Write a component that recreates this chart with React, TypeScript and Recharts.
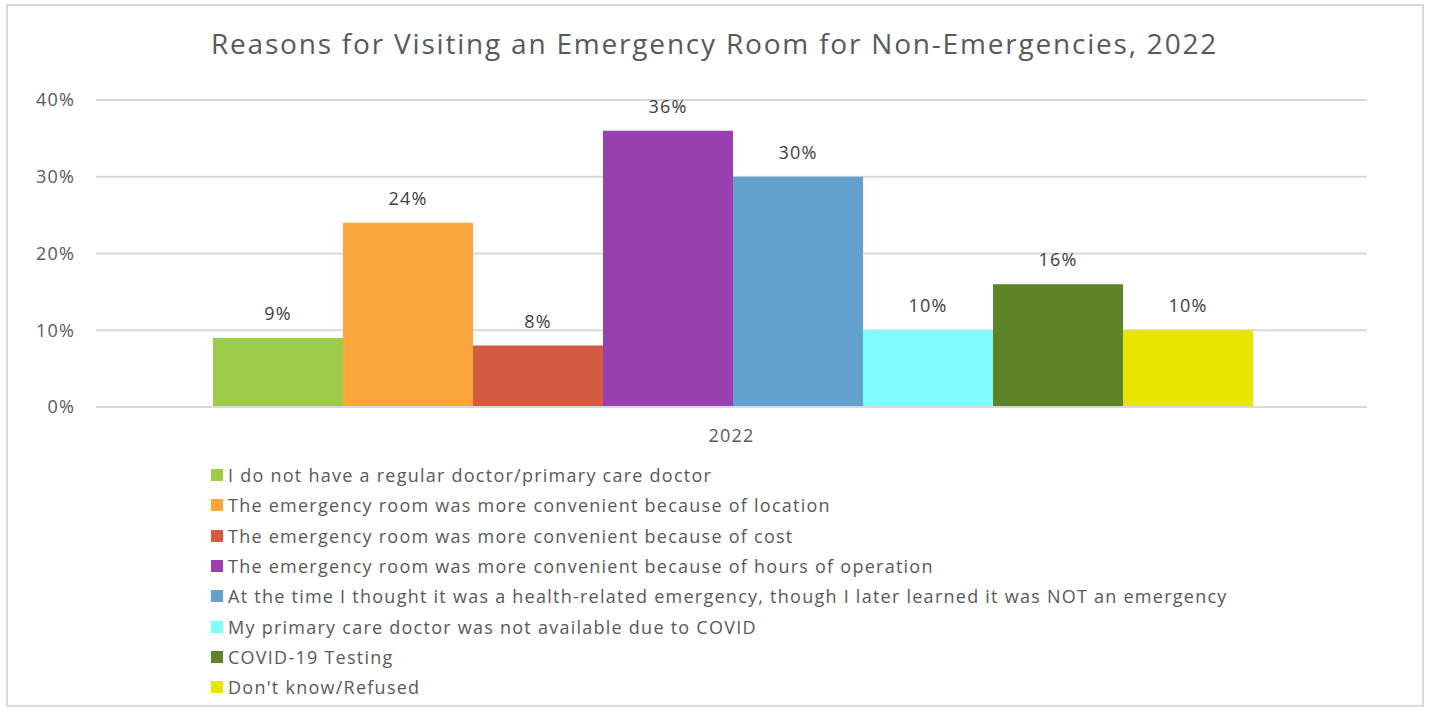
import React from 'react';
import { BarChart, Bar, XAxis, YAxis, CartesianGrid, LabelList, Legend } from 'recharts';

const categories = ['2022'];
const seriesNames = [
  'I do not have a regular doctor/primary care doctor',
  'The emergency room was more convenient because of location',
  'The emergency room was more convenient because of cost',
  'The emergency room was more convenient because of hours of operation',
  'At the time I thought it was a health-related emergency, though I later learned it was NOT an emergency',
  'My primary care doctor was not available due to COVID',
  'COVID-19 Testing',
  "Don't know/Refused",
];
const seriesValues = [0.09, 0.24, 0.08, 0.36, 0.30, 0.10, 0.16, 0.10];
const seriesColors = ['#9BCD4B', '#F9A73B', '#D45B42', '#9940B1', '#62A0CD', '#7FFCFD', '#5E8427', '#E7E600'];
const yTicks = [0, 0.1, 0.2, 0.3, 0.4];

const data = categories.map((c) => {
  const row: Record<string, any> = { name: c };
  seriesNames.forEach((_, i) => { row['s' + i] = seriesValues[i]; });
  return row;
});

const FONT = '"Open Sans", sans-serif';
const pct = (v: any) => `${Math.round(Number(v) * 100)}%`;

const LegendContent = (props: any) => {
  const payload = props.payload || [];
  const ordered = seriesNames.map((n) => payload.find((p: any) => p.value === n)).filter(Boolean);
  return (
    <div style={{ fontFamily: FONT, fontSize: 18, color: '#595959', letterSpacing: 1.25 }}>
      {ordered.map((p: any, i: number) => (
        <div key={i} style={{ display: 'flex', alignItems: 'center', height: 30.3, whiteSpace: 'nowrap' }}>
          <span style={{ display: 'inline-block', width: 12, height: 12, background: p.color, marginRight: 5 }} />
          <span>{p.value}</span>
        </div>
      ))}
    </div>
  );
};

const tickStyle = { fill: '#595959', fontSize: 18, fontFamily: FONT, letterSpacing: 1.2 } as any;

export default function App() {
  return (
    <div style={{ position: 'absolute', left: 0, top: 0, width: 1429, height: 711, background: '#fff' }}>
      <div style={{ position: 'absolute', left: 6, top: 4, width: 1418, height: 703, border: '2px solid #D9D9D9', boxSizing: 'border-box' }} />
      <div style={{ position: 'absolute', left: 0, top: 24, width: 1429, textAlign: 'center', fontFamily: FONT, fontSize: 28, color: '#595959', letterSpacing: 1.8 }}>
        Reasons for Visiting an Emergency Room for Non-Emergencies, 2022
      </div>
      <div style={{ position: 'absolute', left: 0, top: 0 }}>
        <BarChart width={1429} height={711} data={data} margin={{ top: 100, right: 62, left: 0, bottom: 264 }} barCategoryGap={117} barGap={0}>
          <CartesianGrid vertical={false} stroke="#D9D9D9" strokeWidth={2} />
          <XAxis dataKey="name" height={40} tickLine={false} tickSize={0} tickMargin={22} axisLine={{ stroke: '#D9D9D9', strokeWidth: 2 }} tick={tickStyle} />
          <YAxis width={96} domain={[0, 0.4]} ticks={yTicks} tickFormatter={pct} axisLine={false} tickLine={false} tickSize={0} tickMargin={21} tick={tickStyle} />
          <Legend layout="vertical" verticalAlign="middle" align="center" itemSorter={null as any} content={<LegendContent />} wrapperStyle={{ position: 'absolute', left: 211, top: 460, width: 1150 }} />
          {seriesNames.map((n, i) => (
            <Bar key={i} dataKey={'s' + i} name={n} fill={seriesColors[i]} isAnimationActive={false}>
              <LabelList dataKey={'s' + i} position="top" offset={18} formatter={pct} fill="#404040" fontSize={18} fontFamily={FONT} style={{ letterSpacing: 1.2 }} />
            </Bar>
          ))}
        </BarChart>
      </div>
    </div>
  );
}
